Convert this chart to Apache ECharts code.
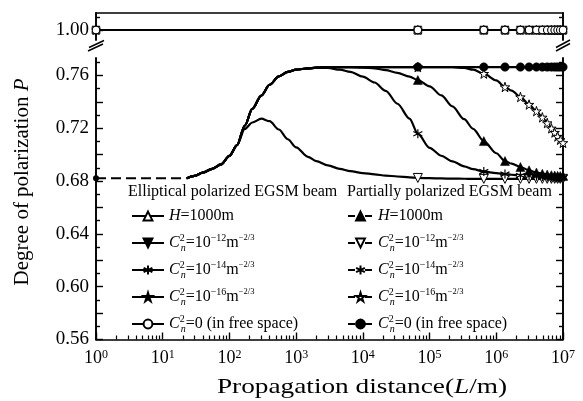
<!DOCTYPE html>
<html><head><meta charset="utf-8">
<script src="https://cdn.jsdelivr.net/npm/echarts@6/dist/echarts.min.js"></script>
<style>html,body{margin:0;padding:0;background:#fff}#c{width:583px;height:401px}</style>
</head><body><div id="c"></div>
<script>
// ---------------- data ----------------
// x grid (propagation distance L, m) for the partially polarized curves
const distance = [23,30,40,55,75,100,130,170,220,300,400,550,750,1000,1500,2000,3000,4500,6500,1e4,1.5e4,2.2e4,3.3e4,5e4,6.67e4,1e5,1.5e5,2.2e5,3.3e5,4.5e5,6.5e5,1e6,1.35e6,1.7e6,2.3e6,3.1e6,4e6,4.9e6,5.8e6,6.7e6,7.5e6,8.3e6,9.1e6,1e7];
// distances where symbols are drawn
const markerDistance = [6.67e4,6.5e5,1.35e6,2.3e6,3.1e6,4e6,4.9e6,5.8e6,6.7e6,7.5e6,8.3e6,9.1e6,1e7];

// Partially polarized EGSM beam
const partialH = [0.6822,0.6840,0.6865,0.6893,0.6927,0.6991,0.7073,
  0.7220,0.7347,0.7448,0.7530,0.7593,0.7627,0.7644,0.7654,0.7659,0.7663,
  0.7664,0.7664,0.7660,0.7654,0.7641,0.7620,0.7591,0.7566,0.7518,0.7449,0.7366,0.7269,0.7196,0.7103,0.7011,0.6952,0.6932,0.6907,0.6882,0.6865,0.6856,0.6850,0.6845,0.6842,0.6840,0.6839,0.6838];
const partial12 = [0.6822,0.6840,0.6865,0.6893,0.6927,0.6991,0.7073,
  0.7195,0.7244,0.7273,0.7254,0.7191,0.7117,0.7056,0.6984,0.6952,0.6919,
  0.6893,0.6876,0.6861,0.6851,0.6842,0.6835,0.6828,0.6824,0.6822,0.6820,0.6819,0.6818,0.6817,0.6817,0.6817,0.6817,0.6817,0.6817,0.6817,0.6817,0.6817,0.6817,0.6817,0.6817,0.6817,0.6817,0.6817];
const partial14 = [0.6822,0.6840,0.6865,0.6893,0.6927,0.6991,0.7073,
  0.7220,0.7347,0.7448,0.7530,0.7593,0.7627,0.7644,0.7654,0.7659,0.7657,
  0.7644,0.7627,0.7591,0.7547,0.7484,0.7386,0.7274,0.7159,0.7052,0.6992,0.6950,0.6912,0.6890,0.6872,0.6860,0.6853,0.6848,0.6843,0.6839,0.6836,0.6834,0.6832,0.6831,0.6830,0.6829,0.6828,0.6828];
const partial16 = [0.6822,0.6840,0.6865,0.6893,0.6927,0.6991,0.7073,
  0.7220,0.7347,0.7448,0.7530,0.7593,0.7627,0.7644,0.7654,0.7659,0.7663,
  0.7664,0.7664,0.7664,0.7664,0.7664,0.7664,0.7664,0.7664,0.7664,0.7664,0.7663,0.7657,0.7644,0.7614,0.7563,0.7513,0.7485,0.7437,0.7380,0.7330,0.7283,0.7240,0.7200,0.7168,0.7138,0.7113,0.7090];
const partial0 = [0.6822,0.6840,0.6865,0.6893,0.6927,0.6991,0.7073,
  0.7220,0.7347,0.7448,0.7530,0.7593,0.7627,0.7644,0.7654,0.7659,0.7663,
  0.7664,0.7664,0.7664,0.7664,0.7664,0.7664,0.7664,0.7664,0.7664,0.7664,0.7664,0.7664,0.7664,0.7664,0.7664,0.7664,0.7664,0.7664,0.7664,0.7664,0.7664,0.7664,0.7664,0.7664,0.7664,0.7664,0.7664];
// common dashed start of the partially polarized curves
const baseDistance = [1,5,10,16,23];
const baseP = [0.6822,0.6822,0.6822,0.6822,0.6822];

// Elliptical polarized EGSM beam (all curves stay at 1.00)
const ellipticalDistance = [1,6.67e4,6.5e5,1.35e6,2.3e6,3.1e6,4e6,4.9e6,5.8e6,6.7e6,7.5e6,8.3e6,9.1e6,1e7];
const ellipticalP = [1.00,1.00,1.00,1.00,1.00,1.00,1.00,1.00,1.00,1.00,1.00,1.00,1.00,1.00];

// tick values
const xMajorTicks = [1,10,100,1e3,1e4,1e5,1e6,1e7];
const yLowLabels = [0.56,0.60,0.64,0.68,0.72,0.76];
const yLowMajor = [0.56,0.58,0.60,0.62,0.64,0.66,0.68,0.70,0.72,0.74,0.76];
const yLowMinor = [0.57,0.59,0.61,0.63,0.65,0.67,0.69,0.71,0.73,0.75,0.77];
const yTopMajor = [1.00];
const yTopMinor = [1.01];

// ---------------- chart ----------------
const SERIF = '"Liberation Serif","Times New Roman",serif';
const xMinorTicks = [];
for (let e = 0; e < 7; e++) for (let k = 2; k <= 9; k++) xMinorTicks.push(k * Math.pow(10, e));

const STAR = 'path://M50,0L61.2,34.5L97.6,34.5L68.2,55.9L79.4,90.5L50,69.1L20.6,90.5L31.8,55.9L2.4,34.5L38.8,34.5Z';
const AST = 'path://M5,0L5,10M0.67,2.5L9.33,7.5M0.67,7.5L9.33,2.5';

const sym = {
  eH:  {symbol:'triangle', symbolSize:8, itemStyle:{color:'#fff', borderColor:'#000', borderWidth:1}},
  e12: {symbol:'triangle', symbolSize:8, symbolRotate:180, itemStyle:{color:'#000', borderColor:'#000', borderWidth:0.5}},
  e14: {symbol:AST, symbolSize:9, itemStyle:{color:'#000', borderColor:'#000', borderWidth:1.2}},
  e16: {symbol:STAR, symbolSize:9, itemStyle:{color:'#000', borderColor:'#000', borderWidth:0.5}},
  e0:  {symbol:'circle', symbolSize:7.5, itemStyle:{color:'#fff', borderColor:'#000', borderWidth:1.1}},
  pH:  {symbol:'triangle', symbolSize:9, itemStyle:{color:'#000', borderColor:'#000', borderWidth:0.5}},
  p12: {symbol:'triangle', symbolSize:9, symbolRotate:180, itemStyle:{color:'#fff', borderColor:'#000', borderWidth:1}},
  p14: {symbol:AST, symbolSize:9, itemStyle:{color:'#000', borderColor:'#000', borderWidth:1.2}},
  p16: {symbol:STAR, symbolSize:9.5, itemStyle:{color:'#fff', borderColor:'#000', borderWidth:1}},
  p0:  {symbol:'circle', symbolSize:8.5, itemStyle:{color:'#000', borderColor:'#000', borderWidth:0.5}}
};

function ellSeries(key) {
  return Object.assign({
    name: key, type:'line', xAxisIndex:0, yAxisIndex:0,
    data: ellipticalDistance.map((d,i)=>[d, ellipticalP[i]]),
    lineStyle:{color:'#000', width:1.8}, showSymbol:true, z:3
  }, sym[key]);
}
function parSeries(key, vals) {
  return Object.assign({
    name: key, type:'line', xAxisIndex:1, yAxisIndex:4,
    smooth:0.3, smoothMonotone:'x',
    data: distance.map((d,i)=> markerDistance.includes(d) ? {value:[d, vals[i]]} : {value:[d, vals[i]], symbol:'none'}),
    lineStyle:{color:'#000', width:2.2}, showSymbol:true, z:3
  }, sym[key]);
}

const legendText = {
  eH:'{i|H}{t|=1000m}', pH:'{i|H}{t|=1000m}',
  e12:'{i|C}{sz|2}{sub|n}{t|=10}{sup|−12}{t|m}{sup2|−2/3}',
  p12:'{i|C}{sz|2}{sub|n}{t|=10}{sup|−12}{t|m}{sup2|−2/3}',
  e14:'{i|C}{sz|2}{sub|n}{t|=10}{sup|−14}{t|m}{sup2|−2/3}',
  p14:'{i|C}{sz|2}{sub|n}{t|=10}{sup|−14}{t|m}{sup2|−2/3}',
  e16:'{i|C}{sz|2}{sub|n}{t|=10}{sup|−16}{t|m}{sup2|−2/3}',
  p16:'{i|C}{sz|2}{sub|n}{t|=10}{sup|−16}{t|m}{sup2|−2/3}',
  e0:'{i|C}{sz|2}{sub|n}{t|=0 (in free space)}',
  p0:'{i|C}{sz|2}{sub|n}{t|=0 (in free space)}'
};
const legendRich = {
  t:{fontFamily:SERIF, fontSize:16, lineHeight:20, color:'#000'},
  i:{fontFamily:SERIF, fontSize:16, fontStyle:'italic', lineHeight:20, color:'#000'},
  sup:{fontFamily:SERIF, fontSize:10, color:'#000', verticalAlign:'top'},
  sup2:{fontFamily:SERIF, fontSize:8.5, color:'#000', verticalAlign:'top'},
  sz:{fontFamily:SERIF, fontSize:10, color:'#000', verticalAlign:'top', width:1},
  sub:{fontFamily:SERIF, fontSize:10, fontStyle:'italic', color:'#000', verticalAlign:'bottom'}
};
function legendCfg(names, left, width, extra) {
  return Object.assign({
    data: names, orient:'vertical', left:left, top:206, padding:0,
    itemWidth:width, itemHeight:11, itemGap:7, selectedMode:false,
    formatter: n => legendText[n],
    textStyle:{fontFamily:SERIF, fontSize:16, color:'#000', lineHeight:20, rich:legendRich}
  }, extra || {});
}

function yAxis(grid, pos, min, max, ticks, len, labels) {
  return {
    type:'value', gridIndex:grid, position:pos, min:min, max:max,
    axisLine:{show:true, onZero:false, lineStyle:{color:'#000', width:1.6}},
    axisTick:{show:true, inside:true, length:len, customValues:ticks, lineStyle:{color:'#000', width:1.4}},
    axisLabel: labels ? {show:true, customValues:labels, formatter:v=>v.toFixed(2), margin:7,
      fontFamily:SERIF, fontSize:19, color:'#000'} : {show:false},
    splitLine:{show:false}
  };
}
const TOPMIN = 0.99242, TOPMAX = 1.01288, LOWMIN = 0.56, LOWMAX = 0.77326;

const option = {
  animation:false,
  backgroundColor:'#fff',
  grid:[
    {left:96, right:20, top:13, height:27},
    {left:96, right:20, top:58, height:281.5}
  ],
  xAxis:[
    {type:'log', logBase:10, gridIndex:0, position:'top', min:1, max:1e7,
     axisLine:{show:true, onZero:false, lineStyle:{color:'#000', width:1.6}},
     axisTick:{show:false}, axisLabel:{show:false}, splitLine:{show:false}},
    {type:'log', logBase:10, gridIndex:1, position:'bottom', min:1, max:1e7,
     axisLine:{show:true, onZero:false, lineStyle:{color:'#000', width:1.6}},
     axisTick:{show:true, inside:true, length:7, customValues:xMajorTicks, lineStyle:{color:'#000', width:1.4}},
     axisLabel:{show:true, customValues:xMajorTicks, margin:9,
       formatter:v=>'{b|10}{s|'+Math.round(Math.log10(v))+'}',
       rich:{b:{fontFamily:SERIF, fontSize:18, color:'#000', lineHeight:20},
             s:{fontFamily:SERIF, fontSize:12, color:'#000', verticalAlign:'top'}}},
     splitLine:{show:false}},
    {type:'log', logBase:10, gridIndex:1, position:'bottom', min:1, max:1e7,
     axisLine:{show:false},
     axisTick:{show:true, inside:true, length:4, customValues:xMinorTicks, lineStyle:{color:'#000', width:1.2}},
     axisLabel:{show:false}, splitLine:{show:false}}
  ],
  yAxis:[
    yAxis(0,'left',TOPMIN,TOPMAX,yTopMajor,7,yTopMajor),
    yAxis(0,'left',TOPMIN,TOPMAX,yTopMinor,4,null),
    yAxis(0,'right',TOPMIN,TOPMAX,yTopMajor,7,null),
    yAxis(0,'right',TOPMIN,TOPMAX,yTopMinor,4,null),
    yAxis(1,'left',LOWMIN,LOWMAX,yLowMajor,7,yLowLabels),
    yAxis(1,'left',LOWMIN,LOWMAX,yLowMinor,4,null),
    yAxis(1,'right',LOWMIN,LOWMAX,yLowMajor,7,null),
    yAxis(1,'right',LOWMIN,LOWMAX,yLowMinor,4,null)
  ],
  legend:[
    legendCfg(['eH','e12','e14','e16','e0'], 131, 32),
    legendCfg(['pH','p12','p14','p16','p0'], 347, 25, {lineStyle:{type:[7,10]}})
  ],
  series:[
    ellSeries('eH'), ellSeries('e12'), ellSeries('e14'), ellSeries('e16'), ellSeries('e0'),
    {name:'base', type:'line', xAxisIndex:1, yAxisIndex:4,
     data: baseDistance.map((d,i)=> i===0 ? {value:[d, baseP[i]]} : {value:[d, baseP[i]], symbol:'none'}),
     symbol:'circle', symbolSize:6, itemStyle:{color:'#000'},
     lineStyle:{color:'#000', width:2, type:[10,5]}, z:3},
    parSeries('p12', partial12), parSeries('p14', partial14), parSeries('pH', partialH),
    parSeries('p16', partial16), parSeries('p0', partial0)
  ],
  graphic:[
    {type:'text', x:22, y:182, rotation:Math.PI/2,
     style:{text:'{t|Degree of polarization }{i|P}', align:'center', verticalAlign:'middle',
       rich:{t:{fontFamily:SERIF, fontSize:21, fill:'#000'}, i:{fontFamily:SERIF, fontSize:21, fontStyle:'italic', fill:'#000'}}}},
    {type:'text', x:362, y:387, scaleX:1.24,
     style:{text:'{t|Propagation distance(}{i|L}{t|/m)}', align:'center', verticalAlign:'middle',
       rich:{t:{fontFamily:SERIF, fontSize:22, fill:'#000'}, i:{fontFamily:SERIF, fontSize:22, fontStyle:'italic', fill:'#000'}}}},
    {type:'text', x:128, y:192,
     style:{text:'Elliptical polarized EGSM beam', fontFamily:SERIF, fontSize:16, fill:'#000', align:'left', verticalAlign:'middle'}},
    {type:'text', x:347, y:192,
     style:{text:'Partially polarized EGSM beam', fontFamily:SERIF, fontSize:16, fill:'#000', align:'left', verticalAlign:'middle'}},
    {type:'line', shape:{x1:88, y1:51, x2:103, y2:44}, style:{stroke:'#000', lineWidth:1.5}},
    {type:'line', shape:{x1:89, y1:47.5, x2:104, y2:40.5}, style:{stroke:'#000', lineWidth:1.5}},
    {type:'line', shape:{x1:556, y1:51, x2:570, y2:43.5}, style:{stroke:'#000', lineWidth:1.5}},
    {type:'line', shape:{x1:556, y1:47.5, x2:570, y2:40}, style:{stroke:'#000', lineWidth:1.5}}
  ]
};
const chart = echarts.init(document.getElementById('c'), null, {renderer:'canvas'});
chart.setOption(option);
</script>
</body></html>
